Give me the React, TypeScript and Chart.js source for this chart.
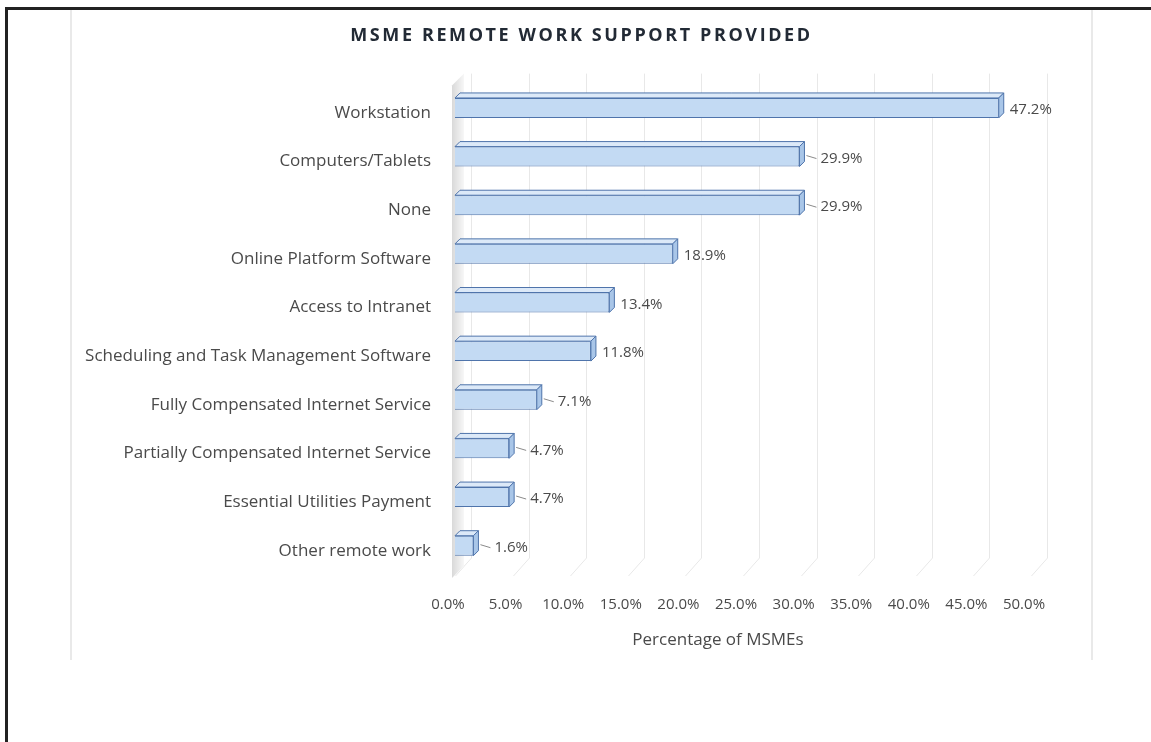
import React, { useEffect, useRef } from "react";
import { Chart, registerables } from "chart.js";

Chart.register(...registerables);

const categories = [
  "Workstation",
  "Computers/Tablets",
  "None",
  "Online Platform Software",
  "Access to Intranet",
  "Scheduling and Task Management Software",
  "Fully Compensated Internet Service",
  "Partially Compensated Internet Service",
  "Essential Utilities Payment",
  "Other remote work",
];
const values = [47.2, 29.9, 29.9, 18.9, 13.4, 11.8, 7.1, 4.7, 4.7, 1.6];
const leaderFlags = [false, true, true, false, false, false, true, true, true, true];
const chartTitle = "MSME REMOTE WORK SUPPORT PROVIDED";
const xTitle = "Percentage of MSMEs";
const xMin = 0;
const xMax = 50;
const xStep = 5;

const FONT = "'Open Sans', 'Noto Sans', sans-serif";
const DEPTH = 5;
const BACK = 16;

const threeDPlugin = {
  id: "threeD",
  beforeDatasetsDraw(chart: any) {
    const { ctx, chartArea } = chart;
    const xs = chart.scales.x;
    ctx.save();
    ctx.strokeStyle = "#e8e8e8";
    ctx.lineWidth = 1;
    xs.ticks.forEach((t: any) => {
      const px = Math.round(xs.getPixelForValue(t.value)) + 0.5;
      ctx.beginPath();
      ctx.moveTo(px + BACK, chartArea.top - 10);
      ctx.lineTo(px + BACK, chartArea.bottom - BACK + 4);
      ctx.stroke();
      ctx.beginPath();
      ctx.moveTo(px, chartArea.bottom + 6);
      ctx.lineTo(px + BACK, chartArea.bottom - BACK + 4);
      ctx.stroke();
    });
    const g = ctx.createLinearGradient(chartArea.left - 3, 0, chartArea.left + 9, 0);
    g.addColorStop(0, "#d9d9d9");
    g.addColorStop(1, "#f7f7f7");
    ctx.fillStyle = g;
    ctx.beginPath();
    ctx.moveTo(chartArea.left - 3, chartArea.top + 2);
    ctx.lineTo(chartArea.left + 9, chartArea.top - 10);
    ctx.lineTo(chartArea.left + 9, chartArea.bottom - 4);
    ctx.lineTo(chartArea.left - 3, chartArea.bottom + 8);
    ctx.closePath();
    ctx.fill();
    ctx.restore();
  },
  afterDatasetsDraw(chart: any) {
    const { ctx } = chart;
    const meta = chart.getDatasetMeta(0);
    ctx.save();
    meta.data.forEach((bar: any, i: number) => {
      const p = bar.getProps(["x", "y", "base", "height"], true);
      const top = p.y - p.height / 2;
      const bottom = p.y + p.height / 2;
      ctx.lineWidth = 1;
      ctx.strokeStyle = "#4f74ab";
      ctx.fillStyle = "#dce9f8";
      ctx.beginPath();
      ctx.moveTo(p.base, top);
      ctx.lineTo(p.x, top);
      ctx.lineTo(p.x + DEPTH, top - DEPTH);
      ctx.lineTo(p.base + DEPTH, top - DEPTH);
      ctx.closePath();
      ctx.fill();
      ctx.stroke();
      ctx.fillStyle = "#a9c6e8";
      ctx.beginPath();
      ctx.moveTo(p.x, top);
      ctx.lineTo(p.x + DEPTH, top - DEPTH);
      ctx.lineTo(p.x + DEPTH, bottom - DEPTH);
      ctx.lineTo(p.x, bottom);
      ctx.closePath();
      ctx.fill();
      ctx.stroke();
      const ly = p.y + 2;
      let tx = p.x + DEPTH + 6;
      if (leaderFlags[i]) {
        ctx.strokeStyle = "#8a8a8a";
        ctx.beginPath();
        ctx.moveTo(p.x + DEPTH + 2, p.y - 1);
        ctx.lineTo(p.x + DEPTH + 12, ly);
        ctx.stroke();
        tx = p.x + DEPTH + 16;
      }
      ctx.fillStyle = "#4a4a4a";
      ctx.font = `15px ${FONT}`;
      ctx.textAlign = "left";
      ctx.textBaseline = "middle";
      ctx.fillText(values[i].toFixed(1) + "%", tx, ly);
    });
    ctx.restore();
  },
};

export default function App() {
  const ref = useRef<HTMLCanvasElement | null>(null);
  useEffect(() => {
    if (!ref.current) return;
    const chart: any = new Chart(ref.current, {
      type: "bar",
      data: {
        labels: categories,
        datasets: [
          {
            data: values,
            backgroundColor: "#c3daf3",
            borderColor: "#4f74ab",
            borderWidth: 1,
            barPercentage: 0.82,
            categoryPercentage: 0.5,
          },
        ],
      },
      options: {
        indexAxis: "y",
        responsive: false,
        animation: false,
        layout: { padding: { left: 0, right: 60, top: 0, bottom: 10 } },
        plugins: {
          legend: { display: false },
          tooltip: { enabled: false },
          title: {
            display: true,
            text: chartTitle,
            color: "#222a35",
            font: { family: FONT, size: 18, weight: "bold" },
            padding: { top: 15, bottom: 37 },
          },
        },
        scales: {
          x: {
            min: xMin,
            max: xMax,
            grid: { display: false },
            border: { display: false },
            ticks: {
              stepSize: xStep,
              labelOffset: -7,
              padding: 18,
              color: "#4a4a4a",
              font: { family: FONT, size: 15 },
              callback: (v: any) => Number(v).toFixed(1) + "%",
            },
            title: {
              display: true,
              text: xTitle,
              color: "#4a4a4a",
              font: { family: FONT, size: 17 },
              padding: { top: 10, bottom: 0 },
            },
            afterFit: (s: any) => {
              s.height = 80;
            },
          },
          y: {
            grid: { display: false },
            border: { display: false },
            ticks: {
              padding: 16,
              labelOffset: 5,
              color: "#4a4a4a",
              font: { family: FONT, size: 17 },
            },
            afterFit: (s: any) => {
              s.width = 383;
            },
          },
        },
      },
      plugins: [threeDPlugin],
    });
    const tb = chart.titleBlock;
    if (tb) {
      const orig = tb.draw.bind(tb);
      tb.draw = (...args: any[]) => {
        const c = chart.ctx;
        c.save();
        c.translate(30, 0);
        c.letterSpacing = "2.6px";
        orig(...args);
        c.restore();
      };
    }
    const xs = chart.scales.x;
    if (xs && xs.drawTitle) {
      const origT = xs.drawTitle.bind(xs);
      xs.drawTitle = (...args: any[]) => {
        const c = chart.ctx;
        c.save();
        c.translate(-25, 0);
        origT(...args);
        c.restore();
      };
    }
    chart.draw();
    return () => chart.destroy();
  }, []);

  return (
    <div style={{ position: "fixed", left: 0, top: 0, width: 1151, height: 742, background: "#fff", overflow: "hidden" }}>
      <div
        style={{
          position: "absolute",
          left: 5,
          top: 7,
          width: 1300,
          height: 900,
          borderLeft: "3px solid #222",
          borderTop: "3px solid #222",
        }}
      />
      <div style={{ position: "absolute", left: 70, top: 10, width: 2, height: 650, background: "#e9e9e9" }} />
      <div style={{ position: "absolute", left: 1091, top: 10, width: 2, height: 650, background: "#e9e9e9" }} />
      <div style={{ position: "absolute", left: 72, top: 10, width: 1019, height: 650 }}>
        <canvas ref={ref} width={1019} height={650} />
      </div>
    </div>
  );
}
